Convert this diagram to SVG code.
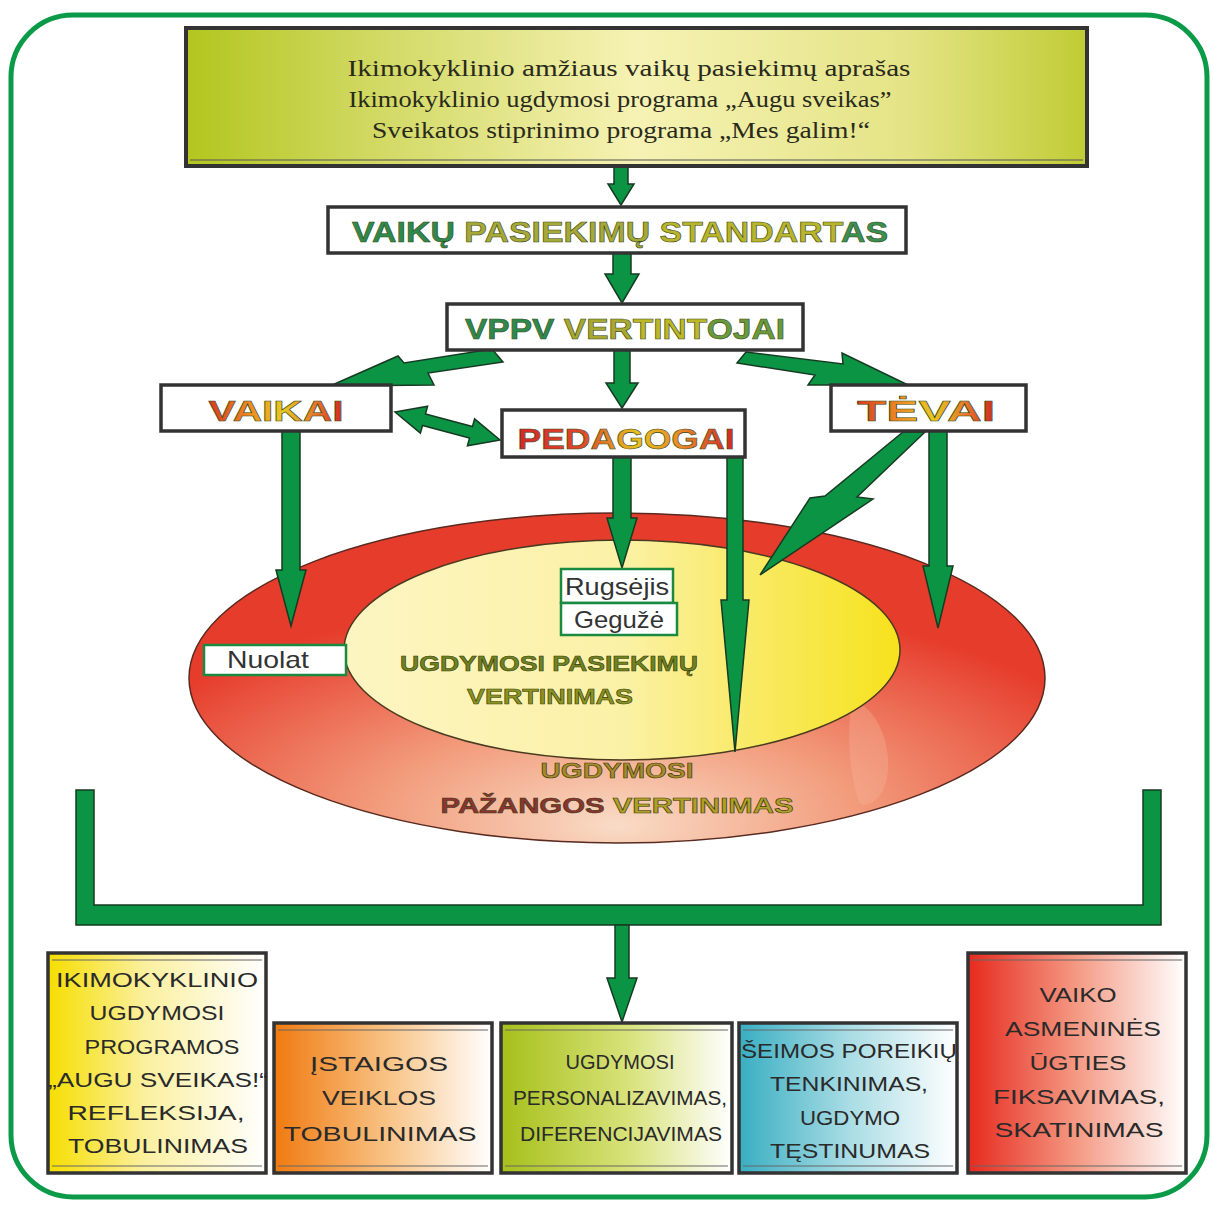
<svg xmlns="http://www.w3.org/2000/svg" width="1213" height="1205" viewBox="0 0 1213 1205">
<defs>
<linearGradient id="gTop" x1="0" y1="0" x2="1" y2="0">
<stop offset="0" stop-color="#b2c61e"/><stop offset="0.2" stop-color="#d0d860"/><stop offset="0.5" stop-color="#f6f2b4"/><stop offset="0.8" stop-color="#e4e486"/><stop offset="1" stop-color="#c0cc34"/>
</linearGradient>
<radialGradient id="gOuter" cx="0.5" cy="0.88" r="0.62" fx="0.5" fy="0.95">
<stop offset="0" stop-color="#f9dcc6"/><stop offset="0.45" stop-color="#f29c7c"/><stop offset="1" stop-color="#e63c2c"/>
</radialGradient>
<linearGradient id="gInner" x1="0" y1="0" x2="1" y2="0">
<stop offset="0" stop-color="#fdf5c2"/><stop offset="0.5" stop-color="#fbf1a6"/><stop offset="1" stop-color="#f6e21c"/>
</linearGradient>
<linearGradient id="gWarm" x1="0" y1="0" x2="1" y2="0">
<stop offset="0" stop-color="#d83a20"/><stop offset="0.3" stop-color="#ec8a22"/><stop offset="0.55" stop-color="#e8c822"/><stop offset="0.8" stop-color="#e6742a"/><stop offset="1" stop-color="#d02a22"/>
</linearGradient>
<linearGradient id="gPed" x1="0" y1="0" x2="1" y2="0">
<stop offset="0" stop-color="#d42828"/><stop offset="0.3" stop-color="#dc4a2a"/><stop offset="0.55" stop-color="#e8c020"/><stop offset="0.75" stop-color="#e88a28"/><stop offset="1" stop-color="#d02828"/>
</linearGradient>
<linearGradient id="gB1" x1="0" y1="0" x2="1" y2="0"><stop offset="0" stop-color="#f6de00"/><stop offset="0.45" stop-color="#fbf0a0"/><stop offset="1" stop-color="#ffffff"/></linearGradient>
<linearGradient id="gB2" x1="0" y1="0" x2="1" y2="0"><stop offset="0" stop-color="#f07a10"/><stop offset="0.5" stop-color="#f8c080"/><stop offset="1" stop-color="#ffffff"/></linearGradient>
<linearGradient id="gB3" x1="0" y1="0" x2="1" y2="0"><stop offset="0" stop-color="#a6c01a"/><stop offset="0.55" stop-color="#d8e27a"/><stop offset="1" stop-color="#ffffff"/></linearGradient>
<linearGradient id="gB4" x1="0" y1="0" x2="1" y2="0"><stop offset="0" stop-color="#38aec2"/><stop offset="0.5" stop-color="#a8dce4"/><stop offset="1" stop-color="#ffffff"/></linearGradient>
<linearGradient id="gB5" x1="0" y1="0" x2="1" y2="0"><stop offset="0" stop-color="#e62a1e"/><stop offset="0.5" stop-color="#f49a84"/><stop offset="1" stop-color="#ffffff"/></linearGradient>
</defs>
<style>
.arrow{fill:#0b9444;stroke:#173a22;stroke-width:1.5;stroke-linejoin:miter}
.hbox{fill:#ffffff;stroke:#333333;stroke-width:3.5}
.bbox{stroke:#333333;stroke-width:3.5}
.inner{fill:none;stroke:#666666;stroke-width:1}
.serif{font-family:"Liberation Serif","DejaVu Serif",serif;font-size:23px;fill:#2a2a1a;text-anchor:middle}
.head{font-family:"Liberation Sans","DejaVu Sans",sans-serif;font-weight:bold;font-size:30px;text-anchor:middle;stroke:#3a4a1a;stroke-width:0.6}
.gbox{fill:#ffffff;stroke:#1a8a40;stroke-width:2.5}
.small{font-family:"Liberation Sans","DejaVu Sans",sans-serif;font-size:24px;fill:#333333;text-anchor:middle}
.ell{font-family:"Liberation Sans","DejaVu Sans",sans-serif;font-weight:bold;font-size:22px;text-anchor:middle;stroke:#3a3a10;stroke-width:0.6}
.bt{font-family:"Liberation Sans","DejaVu Sans",sans-serif;font-size:21px;fill:#2a2a2a;text-anchor:middle}
</style>

<rect id="frame" x="11" y="15" width="1196" height="1182" rx="62" ry="62" fill="#ffffff" stroke="#0a9a48" stroke-width="5"/>

<g id="outer-ellipse">
<ellipse cx="617" cy="678" rx="428" ry="165" fill="url(#gOuter)" stroke="#5a2a20" stroke-width="1.5"/>
<path d="M852,700 C872,705 890,735 888,770 C886,795 872,808 860,804 C850,780 846,735 852,700 Z" fill="#f6b49c" opacity="0.35"/>
<text class="ell" x="617" y="778" fill="#a88a2a" textLength="153" lengthAdjust="spacingAndGlyphs">UGDYMOSI</text>
<text class="ell" x="617" y="813" textLength="353" lengthAdjust="spacingAndGlyphs"><tspan fill="#8c3434">PAŽANGOS </tspan><tspan fill="#b0a028">VERTINIMAS</tspan></text>
</g>

<g id="inner-ellipse">
<ellipse cx="622" cy="650" rx="278" ry="110" fill="url(#gInner)" stroke="#4a3a20" stroke-width="1.5"/>
<text class="ell" x="549" y="671" fill="#6e8420" textLength="298" lengthAdjust="spacingAndGlyphs">UGDYMOSI PASIEKIMŲ</text>
<text class="ell" x="550" y="704" fill="#8a9422" textLength="166" lengthAdjust="spacingAndGlyphs">VERTINIMAS</text>
</g>

<g id="connectors">
<polygon class="arrow" points="614,166 628,166 628,184 634,184 621,205 608,184 614,184"/>
<polygon class="arrow" points="613,253 631,253 631,274 639,274 622,303 605,274 613,274"/>
<polygon class="arrow" points="614,350 630,350 630,383 638,383 622,408 606,383 614,383"/>
<polygon class="arrow" points="330,386 398,356 404,363 492,349 503,362 428,373 434,385"/>
<polygon class="arrow" points="746,352 843,364 842,353 908,385 808,385 815,375 737,363"/>
<polygon class="arrow" points="395,412 427.6,406.2 425.5,413.9 472.5,426.5 474.6,418.8 500,440 467.4,445.8 469.5,438.1 422.5,425.5 420.4,433.2"/>
<polygon class="arrow" points="282,431 300,431 300,570 306,570 291,626 276,570 282,570"/>
<polygon class="arrow" points="613,457 631,457 631,518 637,518 622,568 607,518 613,518"/>
<polygon class="arrow" points="727,457 743,457 743,600 749,600 735,752 721,600 727,600"/>
<polygon class="arrow" points="903,432 925,432 857,497 873,499 760,575 810,498 825,496"/>
<polygon class="arrow" points="929,431 947,431 947,566 953,566 938,628 923,566 929,566"/>
<path class="arrow" d="M76,790 H94 V905 H1143 V790 H1161 V925 H76 Z"/>
<polygon class="arrow" points="615,925 629,925 629,978 637,978 622,1022 607,978 615,978"/>
</g>

<g id="top-box">
<rect x="186" y="28" width="901" height="138" fill="url(#gTop)" stroke="#333333" stroke-width="4"/>
<line x1="190" y1="160" x2="1083" y2="160" stroke="#555555" stroke-width="1"/>
<text class="serif" x="629" y="76" textLength="563" lengthAdjust="spacingAndGlyphs">Ikimokyklinio amžiaus vaikų pasiekimų aprašas</text>
<text class="serif" x="620" y="107" textLength="543" lengthAdjust="spacingAndGlyphs">Ikimokyklinio ugdymosi programa „Augu sveikas”</text>
<text class="serif" x="621" y="138" textLength="498" lengthAdjust="spacingAndGlyphs">Sveikatos stiprinimo programa „Mes galim!“</text>
</g>

<g id="standartas">
<rect class="hbox" x="328" y="207" width="578" height="46"/>
<text class="head" x="620" y="242" textLength="536" lengthAdjust="spacingAndGlyphs"><tspan fill="#2e8a4c">VAIKŲ </tspan><tspan fill="#a6a838">PASIEKIMŲ </tspan><tspan fill="#b8b42c">STANDART</tspan><tspan fill="#3a9050">AS</tspan></text>
</g>

<g id="vertintojai">
<rect class="hbox" x="447" y="304" width="356" height="46"/>
<text class="head" x="625" y="339" textLength="320" lengthAdjust="spacingAndGlyphs"><tspan fill="#2e8a4c">VPPV </tspan><tspan fill="#a8a830">VER</tspan><tspan fill="#bcb828">TINT</tspan><tspan fill="#6a9a3a">OJAI</tspan></text>
</g>

<g id="vaikai">
<rect class="hbox" x="161" y="385" width="230" height="46"/>
<text class="head" x="276" y="421" fill="url(#gWarm)" stroke="#6a2a10" textLength="135" lengthAdjust="spacingAndGlyphs">VAIKAI</text>
</g>

<g id="pedagogai">
<rect class="hbox" x="502" y="410" width="243" height="47"/>
<text class="head" x="626" y="449" fill="url(#gPed)" stroke="#6a2a10" textLength="217" lengthAdjust="spacingAndGlyphs">PEDAGOGAI</text>
</g>

<g id="tevai">
<rect class="hbox" x="831" y="385" width="195" height="46"/>
<text class="head" x="926" y="421" fill="url(#gWarm)" stroke="#6a2a10" textLength="138" lengthAdjust="spacingAndGlyphs">TĖVAI</text>
</g>

<g id="rugsejis">
<rect class="gbox" x="561" y="569" width="112" height="34"/>
<text class="small" x="617" y="595" textLength="104" lengthAdjust="spacingAndGlyphs">Rugsėjis</text>
</g>
<g id="geguze">
<rect class="gbox" x="561" y="603" width="116" height="32"/>
<text class="small" x="619" y="628" textLength="90" lengthAdjust="spacingAndGlyphs">Gegužė</text>
</g>
<g id="nuolat">
<rect class="gbox" x="204" y="645" width="142" height="30"/>
<text class="small" x="268" y="668" textLength="82" lengthAdjust="spacingAndGlyphs">Nuolat</text>
</g>

<g id="box-programa">
<rect class="bbox" x="48" y="953" width="218" height="220" fill="url(#gB1)"/>
<line class="inner" x1="52" y1="960" x2="262" y2="960"/><line class="inner" x1="52" y1="1166" x2="262" y2="1166"/>
<text class="bt" x="157" y="987" textLength="202" lengthAdjust="spacingAndGlyphs">IKIMOKYKLINIO</text>
<text class="bt" x="157" y="1020" textLength="135" lengthAdjust="spacingAndGlyphs">UGDYMOSI</text>
<text class="bt" x="162" y="1054" textLength="155" lengthAdjust="spacingAndGlyphs">PROGRAMOS</text>
<text class="bt" x="158" y="1087" textLength="220" lengthAdjust="spacingAndGlyphs">„AUGU SVEIKAS!“</text>
<text class="bt" x="156" y="1120" textLength="177" lengthAdjust="spacingAndGlyphs">REFLEKSIJA,</text>
<text class="bt" x="158" y="1153" textLength="180" lengthAdjust="spacingAndGlyphs">TOBULINIMAS</text>
</g>

<g id="box-istaigos">
<rect class="bbox" x="274" y="1023" width="218" height="150" fill="url(#gB2)"/>
<line class="inner" x1="278" y1="1030" x2="488" y2="1030"/><line class="inner" x1="278" y1="1166" x2="488" y2="1166"/>
<text class="bt" x="379" y="1071" textLength="138" lengthAdjust="spacingAndGlyphs">ĮSTAIGOS</text>
<text class="bt" x="379" y="1105" textLength="114" lengthAdjust="spacingAndGlyphs">VEIKLOS</text>
<text class="bt" x="380" y="1141" textLength="193" lengthAdjust="spacingAndGlyphs">TOBULINIMAS</text>
</g>

<g id="box-personalizavimas">
<rect class="bbox" x="501" y="1023" width="231" height="150" fill="url(#gB3)"/>
<line class="inner" x1="505" y1="1030" x2="728" y2="1030"/><line class="inner" x1="505" y1="1166" x2="728" y2="1166"/>
<text class="bt" x="620" y="1069" textLength="109" lengthAdjust="spacingAndGlyphs">UGDYMOSI</text>
<text class="bt" x="620" y="1105" textLength="214" lengthAdjust="spacingAndGlyphs">PERSONALIZAVIMAS,</text>
<text class="bt" x="621" y="1141" textLength="202" lengthAdjust="spacingAndGlyphs">DIFERENCIJAVIMAS</text>
</g>

<g id="box-seimos">
<rect class="bbox" x="739" y="1023" width="218" height="150" fill="url(#gB4)"/>
<line class="inner" x1="743" y1="1030" x2="953" y2="1030"/><line class="inner" x1="743" y1="1166" x2="953" y2="1166"/>
<text class="bt" x="849" y="1058" textLength="216" lengthAdjust="spacingAndGlyphs">ŠEIMOS POREIKIŲ</text>
<text class="bt" x="849" y="1091" textLength="158" lengthAdjust="spacingAndGlyphs">TENKINIMAS,</text>
<text class="bt" x="850" y="1125" textLength="100" lengthAdjust="spacingAndGlyphs">UGDYMO</text>
<text class="bt" x="850" y="1158" textLength="160" lengthAdjust="spacingAndGlyphs">TĘSTINUMAS</text>
</g>

<g id="box-vaiko">
<rect class="bbox" x="968" y="953" width="218" height="220" fill="url(#gB5)"/>
<line class="inner" x1="972" y1="960" x2="1182" y2="960"/><line class="inner" x1="972" y1="1166" x2="1182" y2="1166"/>
<text class="bt" x="1078" y="1002" textLength="77" lengthAdjust="spacingAndGlyphs">VAIKO</text>
<text class="bt" x="1083" y="1036" textLength="156" lengthAdjust="spacingAndGlyphs">ASMENINĖS</text>
<text class="bt" x="1078" y="1070" textLength="97" lengthAdjust="spacingAndGlyphs">ŪGTIES</text>
<text class="bt" x="1079" y="1104" textLength="172" lengthAdjust="spacingAndGlyphs">FIKSAVIMAS,</text>
<text class="bt" x="1079" y="1137" textLength="169" lengthAdjust="spacingAndGlyphs">SKATINIMAS</text>
</g>
</svg>
